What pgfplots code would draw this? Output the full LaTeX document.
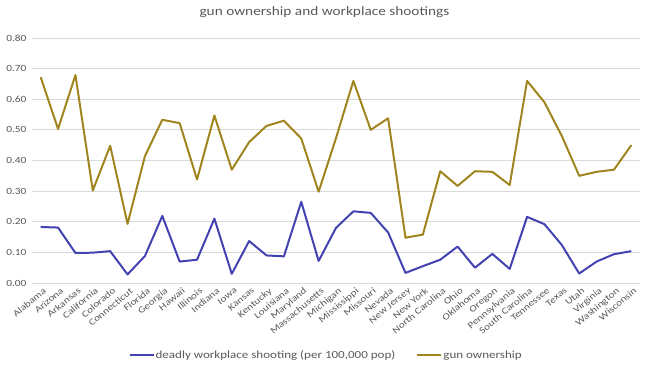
\documentclass[border=0pt]{standalone}
\usepackage{pgfplots}
\pgfplotsset{compat=1.18}
\usepackage{fontspec}
\setmainfont[FakeStretch=1.2]{Carlito}
\definecolor{dblue}{RGB}{66,66,176}
\definecolor{gold}{RGB}{160,132,30}
\definecolor{tgray}{RGB}{89,89,89}
\definecolor{ggray}{RGB}{217,217,217}
\begin{document}
\begin{tikzpicture}
\path[use as bounding box] (-32bp,-87bp) rectangle (618bp,283bp);
\begin{axis}[
  at={(0,0)}, anchor=south west,
  scale only axis, width=608bp, height=245bp,
  xmin=-0.5, xmax=34.5, ymin=0, ymax=0.8,
  axis line style={draw=none},
  ytick={0,0.1,...,0.8},
  ymajorgrids, grid style={ggray, line width=0.8pt},
  major tick length=0pt,
  xtick={0,...,34},
  xticklabels={Alabama,Arizona,Arkansas,California,Colorado,Connecticut,Florida,Georgia,Hawaii,Illinois,Indiana,Iowa,Kansas,Kentucky,Louisiana,Maryland,Massachusetts,Michigan,Mississippi,Missouri,Nevada,New Jersey,New York,North Carolina,Ohio,Oklahoma,Oregon,Pennsylvania,South Carolina,Tennessee,Texas,Utah,Virginia,Washington,Wisconsin},
  x tick label style={rotate=40, anchor=north east, font=\fontsize{9.3}{10}\selectfont, text=tgray, inner sep=1pt, yshift=-3pt},
  y tick label style={font=\fontsize{9.5}{11}\selectfont, text=tgray, xshift=-2pt, /pgf/number format/.cd, fixed, fixed zerofill, precision=2, assume math mode=true},
  title={gun ownership and workplace shootings},
  title style={at={(0.481,1)}, anchor=center, yshift=20bp, font=\fontsize{12.8}{14}\selectfont, text=tgray},
  legend columns=2,
  legend style={at={(0.483,-0.294)}, anchor=center, draw=none, font=\fontsize{10.9}{12}\selectfont, text=tgray, /tikz/every even column/.append style={column sep=20bp}, /tikz/every node/.append style={inner xsep=1pt}},
  legend image code/.code={\draw[#1] (0bp,0bp) -- (24bp,0bp);},
]
\addplot[dblue, line width=2pt, mark=none, line join=round] coordinates {
(0,0.183) (1,0.181) (2,0.098) (3,0.099) (4,0.104) (5,0.028) (6,0.088) (7,0.219) (8,0.070) (9,0.076) (10,0.210) (11,0.030) (12,0.137) (13,0.090) (14,0.087) (15,0.265) (16,0.072) (17,0.180) (18,0.234) (19,0.229) (20,0.165) (21,0.033) (22,0.055) (23,0.076) (24,0.119) (25,0.050) (26,0.095) (27,0.046) (28,0.216) (29,0.192) (30,0.124) (31,0.031) (32,0.070) (33,0.094) (34,0.104)
};
\addlegendentry{deadly workplace shooting (per 100,000 pop)}
\addplot[gold, line width=2pt, mark=none, line join=round] coordinates {
(0,0.672) (1,0.503) (2,0.679) (3,0.302) (4,0.448) (5,0.193) (6,0.414) (7,0.533) (8,0.522) (9,0.338) (10,0.547) (11,0.370) (12,0.460) (13,0.513) (14,0.530) (15,0.472) (16,0.298) (17,0.473) (18,0.660) (19,0.500) (20,0.538) (21,0.148) (22,0.158) (23,0.365) (24,0.317) (25,0.365) (26,0.363) (27,0.320) (28,0.660) (29,0.590) (30,0.480) (31,0.350) (32,0.363) (33,0.370) (34,0.450)
};
\addlegendentry{gun ownership}
\end{axis}
\end{tikzpicture}
\end{document}
